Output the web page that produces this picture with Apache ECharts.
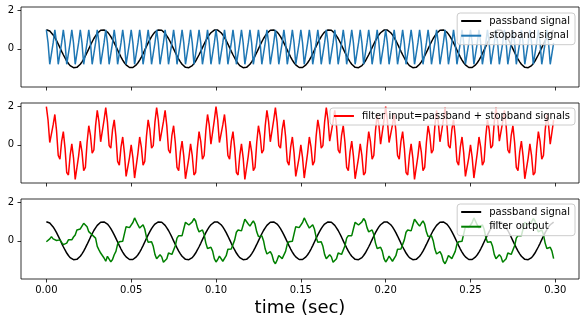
<!DOCTYPE html>
<html>
<head>
<meta charset="utf-8">
<script src="https://cdn.jsdelivr.net/npm/echarts@6/dist/echarts.min.js"></script>
<style>html,body{margin:0;padding:0;background:#fff}#c{width:585px;height:325px}</style>
</head>
<body>
<div id="c"></div>
<script>
// sample rate (Hz) of all signals; samples n = 0..299
const sampleRate = 1000;
const xTicks = [0, 0.05, 0.10, 0.15, 0.20, 0.25, 0.30];
const yTicks = [0, 2];

const passband = [
1,0.98,0.93,0.84,0.73,0.59,0.43,0.25,0.06,-0.13,-0.31,-0.48,-0.64,-0.77,-0.88,-0.95,-0.99,-1,-0.97,-0.9,-0.81,-0.68,-0.54,-0.37,-0.19,0,0.19,0.37,0.54,0.68,0.81,0.9,0.97,1,0.99,0.95,0.88,0.77,0.64,0.48,0.31,0.13,-0.06,-0.25,-0.43,-0.59,-0.73,-0.84,-0.93,-0.98,-1,-0.98,-0.93,-0.84,-0.73,-0.59,-0.43,-0.25,-0.06,0.13,0.31,0.48,0.64,0.77,0.88,0.95,0.99,1,0.97,0.9,0.81,0.68,0.54,0.37,0.19,0,-0.19,-0.37,-0.54,-0.68,-0.81,-0.9,-0.97,-1,-0.99,-0.95,-0.88,-0.77,-0.64,-0.48,-0.31,-0.13,0.06,0.25,0.43,0.59,0.73,0.84,0.93,0.98,
1,0.98,0.93,0.84,0.73,0.59,0.43,0.25,0.06,-0.13,-0.31,-0.48,-0.64,-0.77,-0.88,-0.95,-0.99,-1,-0.97,-0.9,-0.81,-0.68,-0.54,-0.37,-0.19,0,0.19,0.37,0.54,0.68,0.81,0.9,0.97,1,0.99,0.95,0.88,0.77,0.64,0.48,0.31,0.13,-0.06,-0.25,-0.43,-0.59,-0.73,-0.84,-0.93,-0.98,-1,-0.98,-0.93,-0.84,-0.73,-0.59,-0.43,-0.25,-0.06,0.13,0.31,0.48,0.64,0.77,0.88,0.95,0.99,1,0.97,0.9,0.81,0.68,0.54,0.37,0.19,0,-0.19,-0.37,-0.54,-0.68,-0.81,-0.9,-0.97,-1,-0.99,-0.95,-0.88,-0.77,-0.64,-0.48,-0.31,-0.13,0.06,0.25,0.43,0.59,0.73,0.84,0.93,0.98,
1,0.98,0.93,0.84,0.73,0.59,0.43,0.25,0.06,-0.13,-0.31,-0.48,-0.64,-0.77,-0.88,-0.95,-0.99,-1,-0.97,-0.9,-0.81,-0.68,-0.54,-0.37,-0.19,0,0.19,0.37,0.54,0.68,0.81,0.9,0.97,1,0.99,0.95,0.88,0.77,0.64,0.48,0.31,0.13,-0.06,-0.25,-0.43,-0.59,-0.73,-0.84,-0.93,-0.98,-1,-0.98,-0.93,-0.84,-0.73,-0.59,-0.43,-0.25,-0.06,0.13,0.31,0.48,0.64,0.77,0.88,0.95,0.99,1,0.97,0.9,0.81,0.68,0.54,0.37,0.19,0,-0.19,-0.37,-0.54,-0.68,-0.81,-0.9,-0.97,-1,-0.99,-0.95,-0.88,-0.77,-0.64,-0.48,-0.31,-0.13,0.06,0.25,0.43,0.59,0.73,0.84,0.93,0.98
];

const stopband = [
1,0.31,-0.81,-0.81,0.31,1,0.31,-0.81,-0.81,0.31,1,0.31,-0.81,-0.81,0.31,1,0.31,-0.81,-0.81,0.31,1,0.31,-0.81,-0.81,0.31,1,0.31,-0.81,-0.81,0.31,1,0.31,-0.81,-0.81,0.31,1,0.31,-0.81,-0.81,0.31,1,0.31,-0.81,-0.81,0.31,1,0.31,-0.81,-0.81,0.31,
1,0.31,-0.81,-0.81,0.31,1,0.31,-0.81,-0.81,0.31,1,0.31,-0.81,-0.81,0.31,1,0.31,-0.81,-0.81,0.31,1,0.31,-0.81,-0.81,0.31,1,0.31,-0.81,-0.81,0.31,1,0.31,-0.81,-0.81,0.31,1,0.31,-0.81,-0.81,0.31,1,0.31,-0.81,-0.81,0.31,1,0.31,-0.81,-0.81,0.31,
1,0.31,-0.81,-0.81,0.31,1,0.31,-0.81,-0.81,0.31,1,0.31,-0.81,-0.81,0.31,1,0.31,-0.81,-0.81,0.31,1,0.31,-0.81,-0.81,0.31,1,0.31,-0.81,-0.81,0.31,1,0.31,-0.81,-0.81,0.31,1,0.31,-0.81,-0.81,0.31,1,0.31,-0.81,-0.81,0.31,1,0.31,-0.81,-0.81,0.31,
1,0.31,-0.81,-0.81,0.31,1,0.31,-0.81,-0.81,0.31,1,0.31,-0.81,-0.81,0.31,1,0.31,-0.81,-0.81,0.31,1,0.31,-0.81,-0.81,0.31,1,0.31,-0.81,-0.81,0.31,1,0.31,-0.81,-0.81,0.31,1,0.31,-0.81,-0.81,0.31,1,0.31,-0.81,-0.81,0.31,1,0.31,-0.81,-0.81,0.31,
1,0.31,-0.81,-0.81,0.31,1,0.31,-0.81,-0.81,0.31,1,0.31,-0.81,-0.81,0.31,1,0.31,-0.81,-0.81,0.31,1,0.31,-0.81,-0.81,0.31,1,0.31,-0.81,-0.81,0.31,1,0.31,-0.81,-0.81,0.31,1,0.31,-0.81,-0.81,0.31,1,0.31,-0.81,-0.81,0.31,1,0.31,-0.81,-0.81,0.31,
1,0.31,-0.81,-0.81,0.31,1,0.31,-0.81,-0.81,0.31,1,0.31,-0.81,-0.81,0.31,1,0.31,-0.81,-0.81,0.31,1,0.31,-0.81,-0.81,0.31,1,0.31,-0.81,-0.81,0.31,1,0.31,-0.81,-0.81,0.31,1,0.31,-0.81,-0.81,0.31,1,0.31,-0.81,-0.81,0.31,1,0.31,-0.81,-0.81,0.31
];

const filterInput = [
2,1.29,0.12,0.03,1.04,1.59,0.74,-0.56,-0.75,0.18,0.69,-0.17,-1.45,-1.58,-0.57,0.05,-0.68,-1.81,-1.78,-0.59,0.19,-0.37,-1.35,-1.18,0.12,1,0.5,-0.44,-0.27,0.99,1.81,1.21,0.16,0.19,1.3,1.95,1.19,-0.04,-0.17,0.79,1.31,0.44,-0.87,-1.06,-0.12,0.41,-0.42,-1.65,-1.74,-0.67,0,-0.67,-1.74,-1.65,-0.42,0.41,-0.12,-1.06,-0.87,0.44,1.31,0.79,-0.17,-0.04,1.19,1.95,1.3,0.19,0.16,1.21,1.81,0.99,-0.27,-0.44,0.5,1,0.12,-1.18,-1.35,-0.37,0.19,-0.59,-1.78,-1.81,-0.68,0.05,-0.57,-1.58,-1.45,-0.17,0.69,0.18,-0.75,-0.56,0.74,1.59,1.04,0.03,0.12,1.29,
2,1.29,0.12,0.03,1.04,1.59,0.74,-0.56,-0.75,0.18,0.69,-0.17,-1.45,-1.58,-0.57,0.05,-0.68,-1.81,-1.78,-0.59,0.19,-0.37,-1.35,-1.18,0.12,1,0.5,-0.44,-0.27,0.99,1.81,1.21,0.16,0.19,1.3,1.95,1.19,-0.04,-0.17,0.79,1.31,0.44,-0.87,-1.06,-0.12,0.41,-0.42,-1.65,-1.74,-0.67,0,-0.67,-1.74,-1.65,-0.42,0.41,-0.12,-1.06,-0.87,0.44,1.31,0.79,-0.17,-0.04,1.19,1.95,1.3,0.19,0.16,1.21,1.81,0.99,-0.27,-0.44,0.5,1,0.12,-1.18,-1.35,-0.37,0.19,-0.59,-1.78,-1.81,-0.68,0.05,-0.57,-1.58,-1.45,-0.17,0.69,0.18,-0.75,-0.56,0.74,1.59,1.04,0.03,0.12,1.29,
2,1.29,0.12,0.03,1.04,1.59,0.74,-0.56,-0.75,0.18,0.69,-0.17,-1.45,-1.58,-0.57,0.05,-0.68,-1.81,-1.78,-0.59,0.19,-0.37,-1.35,-1.18,0.12,1,0.5,-0.44,-0.27,0.99,1.81,1.21,0.16,0.19,1.3,1.95,1.19,-0.04,-0.17,0.79,1.31,0.44,-0.87,-1.06,-0.12,0.41,-0.42,-1.65,-1.74,-0.67,0,-0.67,-1.74,-1.65,-0.42,0.41,-0.12,-1.06,-0.87,0.44,1.31,0.79,-0.17,-0.04,1.19,1.95,1.3,0.19,0.16,1.21,1.81,0.99,-0.27,-0.44,0.5,1,0.12,-1.18,-1.35,-0.37,0.19,-0.59,-1.78,-1.81,-0.68,0.05,-0.57,-1.58,-1.45,-0.17,0.69,0.18,-0.75,-0.56,0.74,1.59,1.04,0.03,0.12,1.29
];

const filterOutput = [
-0.05,-0.07,0.1,0.22,0.1,0,0.02,0.12,0.05,-0.08,-0.2,-0.24,-0.12,0.05,0.14,0.05,0.2,0.31,0.57,0.48,0.62,0.66,0.92,0.83,0.74,0.48,0.4,0.31,0.4,0.14,-0.29,-0.47,-0.64,-0.73,-0.9,-1.07,-0.81,-0.9,-1.1,-0.98,-0.73,
-0.55,-0.17,-0.05,-0.12,-0.02,0.36,0.74,0.82,0.69,0.69,0.96,1.2,1.13,0.83,0.67,0.76,0.84,0.62,0.19,-0.08,-0.07,-0.05,-0.29,-0.71,-0.94,-0.85,-0.73,-0.84,-1.12,-1.19,-0.94,-0.64,-0.59,-0.71,-0.64,-0.26,0.14,0.27,0.19,0.27,0.63,0.97,1.02,0.83,0.78,0.99,1.17,1.04,0.69,0.47,0.53,0.57,0.33,-0.12,-0.4,-0.38,-0.34,-0.54,-0.93,-1.11,-0.98,-0.8,-0.85,-1.07,-1.09,-0.78,-0.44,-0.34,-0.43,-0.34,0.05,0.45,0.57,0.47,0.52,0.83,1.13,1.12,0.88,0.77,0.92,1.04,0.87,0.47,0.22,0.24,0.26,0.01,-0.43,-0.69,-0.65,-0.57,-0.74,-1.07,-1.2,-1.01,-0.77,-0.76,-0.93,-0.89,
-0.55,-0.17,-0.05,-0.12,-0.02,0.36,0.74,0.82,0.69,0.69,0.96,1.2,1.13,0.83,0.67,0.76,0.84,0.62,0.19,-0.08,-0.07,-0.05,-0.29,-0.71,-0.94,-0.85,-0.73,-0.84,-1.12,-1.19,-0.94,-0.64,-0.59,-0.71,-0.64,-0.26,0.14,0.27,0.19,0.27,0.63,0.97,1.02,0.83,0.78,0.99,1.17,1.04,0.69,0.47,0.53,0.57,0.33,-0.12,-0.4,-0.38,-0.34,-0.54,-0.93,-1.11,-0.98,-0.8,-0.85,-1.07,-1.09,-0.78,-0.44,-0.34,-0.43,-0.34,0.05,0.45,0.57,0.47,0.52,0.83,1.13,1.12,0.88,0.77,0.92,1.04,0.87,0.47,0.22,0.24,0.26,0.01,-0.43,-0.69,-0.65,-0.57,-0.74,-1.07,-1.2,-1.01,-0.77,-0.76,-0.93,-0.89,
-0.55,-0.17,-0.05,-0.12,-0.02,0.36,0.74,0.82,0.69,0.69,0.96,1.2,1.13,0.83,0.67,0.76,0.84,0.62,0.19,-0.08,-0.07,-0.05,-0.29,-0.71,-0.94,-0.85,-0.73,-0.84,-1.12,-1.19,-0.94,-0.64,-0.59,-0.71,-0.64,-0.26,0.14,0.27,0.19,0.27,0.63,0.97,1.02,0.83,0.78,0.99,1.17,1.04,0.69,0.47,0.53,0.57,0.33,-0.12,-0.4,-0.38,-0.34,-0.54,-0.93
];

const time = passband.map((_, i) => i / sampleRate);
const pairs = arr => arr.map((v, i) => [time[i], v]);

const FONT = 'DejaVu Sans';
const gridTops = [7, 103, 199];
const GRID_H = 80;

const grids = gridTops.map(t => ({
  left: 21, right: 6, top: t, height: GRID_H,
  show: true, borderColor: '#000', borderWidth: 0.8, backgroundColor: 'transparent'
}));

const xAxes = gridTops.map((t, i) => ({
  type: 'value', gridIndex: i, min: -0.01495, max: 0.31395, position: 'bottom',
  axisLine: { show: false, onZero: false },
  splitLine: { show: false },
  axisTick: { show: true, length: 3.5, inside: false, customValues: xTicks, lineStyle: { color: '#000', width: 0.8 } },
  axisLabel: {
    show: i === 2, customValues: xTicks, margin: 6,
    formatter: v => v.toFixed(2), color: '#000', fontFamily: FONT, fontSize: 10
  },
  name: i === 2 ? 'time (sec)' : '',
  nameLocation: 'middle', nameGap: 20,
  nameTextStyle: { fontFamily: FONT, fontSize: 18, color: '#000' }
}));

const yAxes = gridTops.map((t, i) => ({
  type: 'value', gridIndex: i, min: -1.9995, max: 2.1905, position: 'left',
  axisLine: { show: false, onZero: false },
  splitLine: { show: false },
  axisTick: { show: true, length: 3.5, customValues: yTicks, lineStyle: { color: '#000', width: 0.8 } },
  axisLabel: { customValues: yTicks, margin: 7, color: '#000', fontFamily: FONT, fontSize: 10 }
}));

const mkSeries = (name, data, color, idx) => ({
  name, type: 'line', xAxisIndex: idx, yAxisIndex: idx,
  data: pairs(data), showSymbol: false, symbol: 'none',
  lineStyle: { color, width: 1.5 }, itemStyle: { color },
  animation: false, silent: true
});

const legendBase = {
  orient: 'vertical', right: 10, itemWidth: 20, itemHeight: 2, icon: 'rect',
  itemGap: 2.7, padding: [2, 5, 3, 4],
  backgroundColor: 'rgba(255,255,255,0.8)', borderColor: '#cccccc', borderWidth: 1, borderRadius: 3,
  textStyle: { fontFamily: FONT, fontSize: 10, color: '#000', lineHeight: 12, padding: [0, 0, 0, 3] },
  selectedMode: false
};

const option = {
  backgroundColor: '#fff',
  animation: false,
  grid: grids,
  xAxis: xAxes,
  yAxis: yAxes,
  legend: [
    Object.assign({}, legendBase, { top: 13, data: ['passband signal', 'stopband signal'] }),
    Object.assign({}, legendBase, { top: 108, data: ['filter input=passband + stopband signals'] }),
    Object.assign({}, legendBase, { top: 204, data: ['passband signal', 'filter output'] })
  ],
  series: [
    mkSeries('passband signal', passband, '#000000', 0),
    mkSeries('stopband signal', stopband, '#1f77b4', 0),
    mkSeries('filter input=passband + stopband signals', filterInput, '#ff0000', 1),
    mkSeries('passband signal', passband, '#000000', 2),
    mkSeries('filter output', filterOutput, '#008000', 2)
  ]
};

const chart = echarts.init(document.getElementById('c'), null, { renderer: 'canvas' });
chart.setOption(option);
</script>
</body>
</html>
